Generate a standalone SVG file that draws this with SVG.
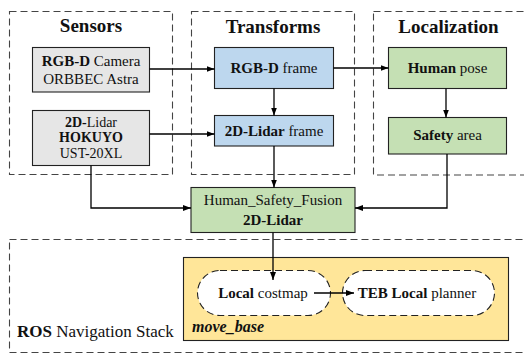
<svg xmlns="http://www.w3.org/2000/svg" width="524" height="354" viewBox="0 0 524 354" font-family="'Liberation Serif', 'DejaVu Serif', 'Times New Roman', serif">
  <defs>
    <marker id="arrow" viewBox="0 0 8 6" refX="8" refY="3" markerWidth="8" markerHeight="6" markerUnits="userSpaceOnUse" orient="auto">
      <path d="M0,0 L8,3 L0,6 Z" fill="#000"/>
    </marker>
    <style>
      text { font-family: 'Liberation Serif', 'DejaVu Serif', 'Times New Roman', serif; fill: #111; }
      .title { font-size: 19px; font-weight: bold; text-anchor: middle; }
      .lbl { font-size: 15px; text-anchor: middle; }
      .sm { font-size: 14px; }
      .b { font-weight: bold; }
      .group { fill: none; stroke: #444; stroke-width: 1.1; stroke-dasharray: 7 4; }
      .node { stroke: #222; stroke-width: 1.1; }
      .grey { fill: #e6e6e6; }
      .blue { fill: #bdd7ee; }
      .green { fill: #c5e0b4; }
      .yellow { fill: #ffe699; }
      .pill { fill: #fff; stroke: #222; stroke-width: 1.1; stroke-dasharray: 7 4; }
      .edge { fill: none; stroke: #000; stroke-width: 1.3; marker-end: url(#arrow); }
    </style>
  </defs>

  <!-- dashed stage frames -->
  <g id="sensors">
    <rect class="group" x="9.5" y="11.5" width="163" height="163"/>
    <text class="title" x="91" y="32">Sensors</text>
  </g>
  <g id="transforms">
    <rect class="group" x="191.5" y="11.5" width="163" height="163"/>
    <text class="title" x="273" y="33">Transforms</text>
  </g>
  <g id="localization">
    <rect class="group" x="373.5" y="11.5" width="160" height="163.5"/>
    <text class="title" x="448.5" y="33">Localization</text>
  </g>
  <g id="ros">
    <rect class="group" x="9.5" y="239.5" width="530" height="113"/>
    <text x="17" y="337" style="font-size:17px"><tspan class="b">ROS</tspan> Navigation Stack</text>
  </g>

  <!-- sensor nodes -->
  <g id="rgbd-camera">
    <rect class="node grey" x="32.5" y="47.5" width="117" height="44.5"/>
    <text class="lbl" x="91" y="65.5"><tspan class="b">RGB-D</tspan> Camera</text>
    <text class="lbl" x="91" y="84">ORBBEC Astra</text>
  </g>
  <g id="lidar-sensor">
    <rect class="node grey" x="32.5" y="110.5" width="117" height="55"/>
    <text class="lbl sm" x="91" y="126.5"><tspan class="b">2D-</tspan>Lidar</text>
    <text class="lbl sm b" x="91" y="142">HOKUYO</text>
    <text class="lbl sm" x="91" y="157.5">UST-20XL</text>
  </g>

  <!-- transform nodes -->
  <g id="rgbd-frame">
    <rect class="node blue" x="214.5" y="47.5" width="119" height="41"/>
    <text class="lbl" x="274" y="73"><tspan class="b">RGB-D</tspan> frame</text>
  </g>
  <g id="lidar-frame">
    <rect class="node blue" x="214.5" y="115.5" width="119" height="30.5"/>
    <text class="lbl" x="274" y="136"><tspan class="b">2D-Lidar</tspan> frame</text>
  </g>

  <!-- localization nodes -->
  <g id="human-pose">
    <rect class="node green" x="388.5" y="47.5" width="118" height="41"/>
    <text class="lbl" x="447.5" y="73"><tspan class="b">Human</tspan> pose</text>
  </g>
  <g id="safety-area">
    <rect class="node green" x="388.5" y="117.5" width="118" height="36.5"/>
    <text class="lbl" x="447.5" y="140"><tspan class="b">Safety</tspan> area</text>
  </g>

  <!-- fusion node -->
  <g id="fusion">
    <rect class="node green" x="191" y="187.5" width="164" height="45"/>
    <text class="lbl" x="273" y="205">Human_Safety_Fusion</text>
    <text class="lbl b" x="273" y="225">2D-Lidar</text>
  </g>

  <!-- move_base container and its planners -->
  <g id="move-base">
    <rect class="node yellow" x="183.5" y="257.5" width="325" height="83"/>
    <text x="192" y="332" style="font-size:16px;font-weight:bold;font-style:italic">move_base</text>
  </g>
  <g id="local-costmap">
    <rect class="pill" x="197.5" y="270.5" width="133" height="45" rx="22.5" ry="22.5"/>
    <text class="lbl" x="263" y="298"><tspan class="b">Local</tspan> costmap</text>
  </g>
  <g id="teb-planner">
    <rect class="pill" x="342.5" y="270.5" width="152" height="45" rx="22.5" ry="22.5"/>
    <text class="lbl" x="417" y="298"><tspan class="b">TEB Local</tspan> planner</text>
  </g>

  <!-- connectors -->
  <g id="connectors">
    <path class="edge" d="M149.5,69 H214.5"/>
    <path class="edge" d="M149.5,134 H214.5"/>
    <path class="edge" d="M333.5,68 H388.5"/>
    <path class="edge" d="M274,88.5 V115.5"/>
    <path class="edge" d="M446,88.5 V117.5"/>
    <path class="edge" d="M274,146 V187.5"/>
    <path class="edge" d="M91,165.5 V208 H191"/>
    <path class="edge" d="M447,154 V208 H355"/>
    <path class="edge" d="M273,232.5 V280"/>
    <path class="edge" d="M314,293 H354"/>
  </g>
</svg>
